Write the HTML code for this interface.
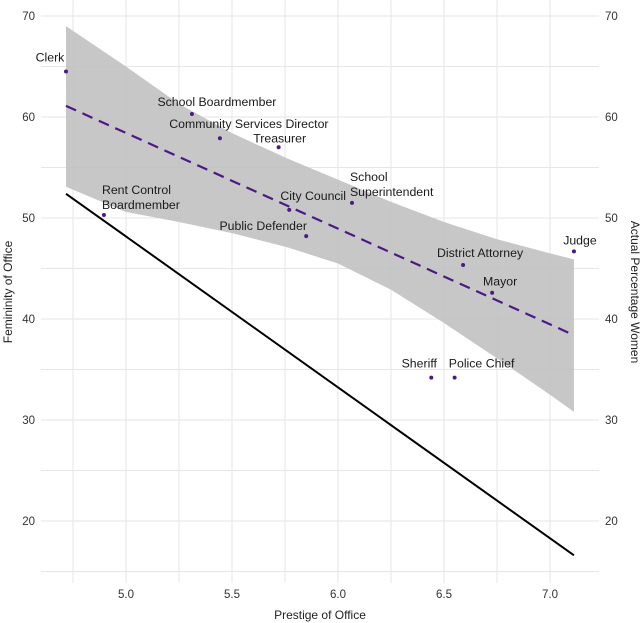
<!DOCTYPE html>
<html><head><meta charset="utf-8"><style>
html,body{margin:0;padding:0;background:#fff;}
svg{display:block;font-family:"Liberation Sans",Arial,sans-serif;}
</style></head><body>
<svg id="chart" width="642" height="623" viewBox="0 0 642 623" xmlns="http://www.w3.org/2000/svg">
<g id="grid"></g>
<g id="ribbon"></g>
<g id="lines"></g>
<g id="points"></g>
<g id="labels"></g>
<g id="axes"></g>
<text x="320" y="619" text-anchor="middle" font-size="12" fill="#222">Prestige of Office</text>
<text transform="translate(12,292) rotate(-90)" text-anchor="middle" font-size="12" fill="#222">Femininity of Office</text>
<text transform="translate(631,292) rotate(90)" text-anchor="middle" font-size="12" fill="#222">Actual Percentage Women</text>
</svg>
<script>
const offices = ["Clerk","School Boardmember","Community Services Director","Treasurer","Rent Control\nBoardmember","City Council","Public Defender","School\nSuperintendent","District Attorney","Mayor","Judge","Sheriff","Police Chief"];
const prestige = [4.717,5.311,5.443,5.72,4.896,5.77,5.85,6.066,6.59,6.727,7.113,6.44,6.55];
const femininity = [64.5,60.3,57.9,57.0,50.3,50.8,48.2,51.5,45.35,42.6,46.7,34.2,34.2];
const xTicks = [5.0,5.5,6.0,6.5,7.0];
const yTicks = [20,30,40,50,60,70];
const fitStart = [4.717,61.1];
const fitEnd = [7.113,38.4];
const bandX = [4.717,5.0,5.25,5.5,5.76,6.0,6.25,6.5,6.75,7.0,7.113];
const bandUpper = [69.0,65.0,61.3,58.4,55.9,53.8,51.6,49.6,47.9,46.5,45.9];
const bandLower = [53.1,50.6,49.6,48.5,47.1,45.5,42.9,39.6,36.1,32.5,30.8];
const actualStart = [4.717,52.4];
const actualEnd = [7.113,16.6];

const NS="http://www.w3.org/2000/svg";
const X0=41,X1=599,Y0=0,Y1=583;
const xs=v=>338+(v-6)*212;
const ys=v=>16+(70-v)*10.1;
function mk(tag,attrs,parent){const e=document.createElementNS(NS,tag);for(const k in attrs)e.setAttribute(k,attrs[k]);parent.appendChild(e);return e;}

const grid=document.getElementById('grid');
for(let v=4.75;v<=7.25;v+=0.25){const x=xs(v);if(x<X0||x>X1)continue;
 const l=mk('line',{x1:x,x2:x,y1:Y0,y2:Y1,stroke:'#e6e6e6','stroke-width':1.1},grid);
 
 }
for(let v=15;v<=70;v+=5){const y=ys(v);
 const l=mk('line',{x1:X0,x2:X1,y1:y,y2:y,stroke:'#e6e6e6','stroke-width':1.1},grid);
 
 }

const rib=document.getElementById('ribbon');
let d='';
bandX.forEach((v,i)=>{d+=(i?'L':'M')+xs(v)+','+ys(bandUpper[i]);});
for(let i=bandX.length-1;i>=0;i--)d+='L'+xs(bandX[i])+','+ys(bandLower[i]);
const band=mk('path',{d:d+'Z',fill:'#bdbdbd','fill-opacity':0.85},rib);



const lines=document.getElementById('lines');
const act=mk('line',{x1:xs(actualStart[0]),y1:ys(actualStart[1]),x2:xs(actualEnd[0]),y2:ys(actualEnd[1]),stroke:'#000','stroke-width':2},lines);


const fit=mk('line',{x1:xs(fitStart[0]),y1:ys(fitStart[1]),x2:xs(fitEnd[0]),y2:ys(fitEnd[1]),stroke:'#4b1a86','stroke-width':2.2,'stroke-dasharray':'11,7'},lines);



const pts=document.getElementById('points'),lab=document.getElementById('labels');
const labelDx=[-16,25,29,1,-2,24,-43,-2,17,8,6,-12,27];
const labelDy=[-14,-12,-14,-9,-25,-14,-10,-26,-12,-11,-11,-14,-14];
const labelAnchor=['middle','middle','middle','middle','start','middle','middle','start','middle','middle','middle','middle','middle'];
offices.forEach((name,i)=>{
 const cx=xs(prestige[i]),cy=ys(femininity[i]);
 const c=mk('circle',{cx:cx,cy:cy,r:2,fill:'#4b1a86'},pts);
 
 
 const parts=name.split('\n');
 parts.forEach((p,j)=>{
  const t=mk('text',{x:cx+labelDx[i],y:cy+labelDy[i]+4+j*15,'text-anchor':labelAnchor[i],'font-size':12.3,fill:'#1a1a1a'},lab);
  t.textContent=p;
  
  
 });
});

const axes=document.getElementById('axes');
xTicks.forEach(v=>{const t=mk('text',{x:xs(v),y:598,'text-anchor':'middle','font-size':11.5,fill:'#333'},axes);
 t.textContent=v.toFixed(1);
 
 });
yTicks.forEach(v=>{const y=ys(v)+4;
 const a=mk('text',{x:35,y:y,'text-anchor':'end','font-size':11.5,fill:'#333'},axes);
 a.textContent=v;
 
 
 const b=mk('text',{x:605,y:y,'text-anchor':'start','font-size':11.5,fill:'#333'},axes);
 b.textContent=v;
 
 });
</script>
</body></html>
